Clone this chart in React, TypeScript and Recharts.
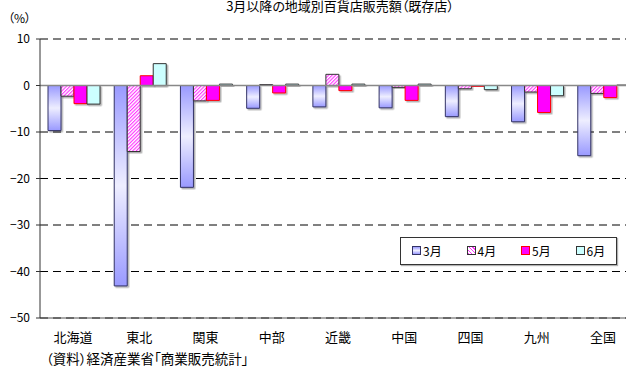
import React from 'react';
import { BarChart, Bar, XAxis, YAxis, CartesianGrid, ReferenceLine } from 'recharts';

const regions = ['北海道', '東北', '関東', '中部', '近畿', '中国', '四国', '九州', '全国'];
const mar = [-9.7, -43.1, -21.9, -4.9, -4.6, -4.8, -6.7, -7.8, -15.1];
const apr = [-2.3, -14.2, -3.3, 0.2, 2.4, -0.4, -0.7, -1.4, -1.7];
const may = [-3.9, 2.1, -3.2, -1.6, -1.1, -3.2, -0.2, -5.8, -2.6];
const jun = [-4.0, 4.7, 0.3, 0.3, 0.3, 0.3, -0.9, -2.2, 0.1];
const yTicks = [10, 0, -10, -20, -30, -40, -50];
const seriesNames = ['3月', '4月', '5月', '6月'];
const title = '3月以降の地域別百貨店販売額（既存店）';
const unitLabel = '（%）';
const sourceNote = '（資料）経済産業省「商業販売統計」';

const data = regions.map((r, i) => ({ region: r, mar: mar[i], apr: apr[i], may: may[i], jun: jun[i] }));

const FONT = '"Noto Sans CJK JP", "Noto Sans", sans-serif';

const legendStyles = [
  { fill: 'linear-gradient(180deg,#9999ff,#eeeeff,#9999ff)', border: '#333366' },
  { fill: 'repeating-linear-gradient(45deg,#ff33ff 0 1px,#ffffff 1px 2.5px)', border: '#333333' },
  { fill: '#ff00ff', border: '#ff0000' },
  { fill: '#ccffff', border: '#333333' },
];

const fmt = (v: number) => (v < 0 ? '−' + Math.abs(v) : String(v));

export default function App() {
  return (
    <div style={{ position: 'absolute', left: 0, top: 0, width: 626, height: 367, overflow: 'hidden', background: '#fff', fontFamily: FONT }}>
      <div style={{ position: 'absolute', left: 0, top: -4, width: 680, textAlign: 'center', fontSize: 13, color: '#000', whiteSpace: 'nowrap', fontFeatureSettings: '"palt"' }}>{title}</div>
      <div style={{ position: 'absolute', left: 8, top: 9, fontSize: 12, color: '#000', whiteSpace: 'nowrap', fontFeatureSettings: '"palt"' }}>{unitLabel}</div>
      <div style={{ position: 'absolute', left: 46, top: 348, fontSize: 13.5, color: '#000', whiteSpace: 'nowrap', fontFeatureSettings: '"palt"' }}>{sourceNote}</div>
      <div style={{ position: 'absolute', left: 0, top: 0 }}>
        <BarChart width={640} height={367} data={data} margin={{ top: 39, right: 4, bottom: 0, left: 0 }} barCategoryGap={8} barGap={0}>
          <defs>
            <linearGradient id="gMar" x1="0" y1="0" x2="0" y2="1">
              <stop offset="0%" stopColor="#9999ff" />
              <stop offset="50%" stopColor="#eeeeff" />
              <stop offset="100%" stopColor="#9999ff" />
            </linearGradient>
            <pattern id="hatch" width="2.5" height="2.5" patternUnits="userSpaceOnUse" patternTransform="rotate(45)">
              <rect width="2.5" height="2.5" fill="#ffffff" />
              <rect width="1.1" height="2.5" fill="#ff33ff" />
            </pattern>
            <filter id="shadow" x="-20%" y="-20%" width="160%" height="160%">
              <feDropShadow dx="1.5" dy="1.5" stdDeviation="0.6" floodColor="#000" floodOpacity="0.3" />
            </filter>
          </defs>
          <CartesianGrid vertical={false} stroke="#000" strokeDasharray="8 5" />
          <XAxis dataKey="region" height={49} tickLine={false} axisLine={{ stroke: '#555' }} tickMargin={9} interval={0}
            tick={{ fill: '#000', fontSize: 13, fontFamily: FONT }} />
          <YAxis width={40} domain={[-50, 10]} ticks={yTicks} interval={0} tickSize={4} tickMargin={6}
            axisLine={{ stroke: '#333' }} tickLine={{ stroke: '#333' }} tickFormatter={fmt}
            tick={{ fill: '#000', fontSize: 12, fontFamily: FONT }} />
          <ReferenceLine y={0} stroke="#888" strokeWidth={1.5} />
          <Bar dataKey="mar" name={seriesNames[0]} fill="url(#gMar)" stroke="#333366" strokeWidth={1} filter="url(#shadow)" isAnimationActive={false} />
          <Bar dataKey="apr" name={seriesNames[1]} fill="url(#hatch)" stroke="#333333" strokeWidth={1} filter="url(#shadow)" isAnimationActive={false} />
          <Bar dataKey="may" name={seriesNames[2]} fill="#ff00ff" stroke="#ff0000" strokeWidth={1} filter="url(#shadow)" isAnimationActive={false} />
          <Bar dataKey="jun" name={seriesNames[3]} fill="#ccffff" stroke="#333333" strokeWidth={1} filter="url(#shadow)" isAnimationActive={false} />
        </BarChart>
      </div>
      <div style={{ position: 'absolute', left: 400, top: 237, width: 215, height: 26, border: '1px solid #333', background: '#fff', boxSizing: 'content-box', boxShadow: '1px 1px 1px rgba(0,0,0,0.3)' }}>
        {seriesNames.map((n, i) => (
          <div key={n} style={{ position: 'absolute', left: 11 + i * 54.5, top: 4, display: 'flex', alignItems: 'center', fontSize: 12, color: '#000', whiteSpace: 'nowrap' }}>
            <span style={{ display: 'inline-block', width: 7, height: 7, background: legendStyles[i].fill, border: `1px solid ${legendStyles[i].border}`, marginRight: 2 }} />
            <span>{n}</span>
          </div>
        ))}
      </div>
    </div>
  );
}
